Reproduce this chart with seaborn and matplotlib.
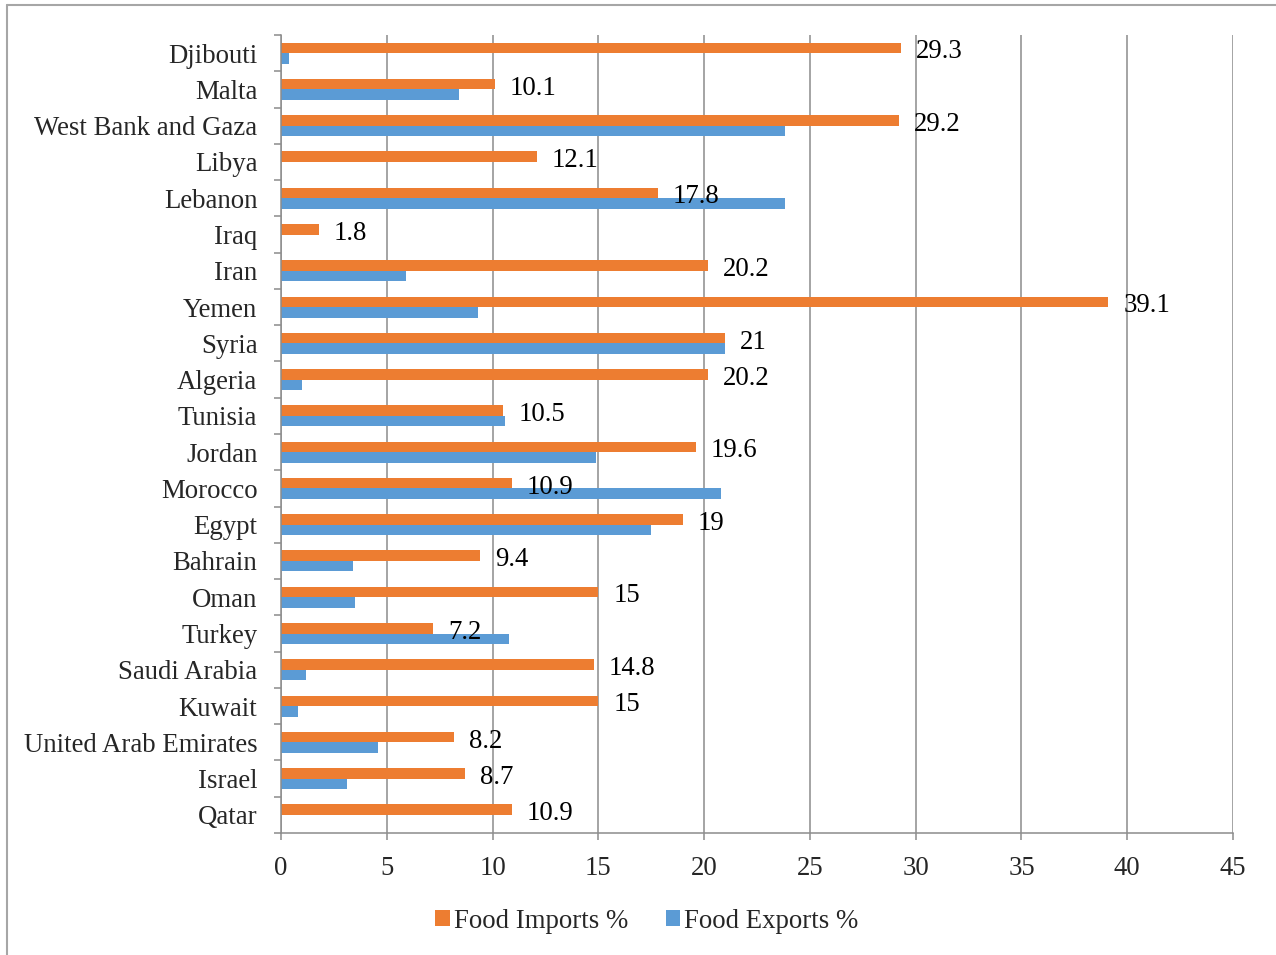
import matplotlib
matplotlib.use("Agg")
import matplotlib.pyplot as plt
from matplotlib.patches import Patch
from matplotlib.lines import Line2D
import numpy as np
import pandas as pd
import seaborn as sns

countries = ["Djibouti", "Malta", "West Bank and Gaza", "Libya", "Lebanon", "Iraq",
             "Iran", "Yemen", "Syria", "Algeria", "Tunisia", "Jordan", "Morocco",
             "Egypt", "Bahrain", "Oman", "Turkey", "Saudi Arabia", "Kuwait",
             "United Arab Emirates", "Israel", "Qatar"]
food_imports = [29.3, 10.1, 29.2, 12.1, 17.8, 1.8, 20.2, 39.1, 21, 20.2, 10.5, 19.6,
                10.9, 19, 9.4, 15, 7.2, 14.8, 15, 8.2, 8.7, 10.9]
food_exports = [0.4, 8.4, 23.8, 0.0, 23.8, 0.0, 5.9, 9.3, 21.0, 1.0, 10.6, 14.9,
                20.8, 17.5, 3.4, 3.5, 10.8, 1.2, 0.8, 4.6, 3.1, 0.0]
series_names = ["Food Imports %", "Food Exports %"]
x_ticks = [0, 5, 10, 15, 20, 25, 30, 35, 40, 45]

orange = "#ED7D31"
blue = "#5B9BD5"
grid_gray = "#8C8C8C"
axis_gray = "#8C8C8C"

df = pd.DataFrame({
    "country": countries * 2,
    "value": food_imports + food_exports,
    "series": [series_names[0]] * len(countries) + [series_names[1]] * len(countries),
})

sns.set_style("white")
plt.rcParams["font.family"] = ["Liberation Serif", "DejaVu Serif"]

fig = plt.figure(figsize=(12.76, 9.55), dpi=100)
ax = fig.add_axes([281 / 1276, 1 - 833 / 955, (1233 - 281) / 1276, (833 - 35) / 955])

sns.barplot(data=df, y="country", x="value", hue="series", order=countries,
            hue_order=series_names, palette=[orange, blue], orient="h",
            width=0.58, linewidth=0, saturation=1, errorbar=None, ax=ax, legend=False)

ax.set_xlim(0, 45)
ax.set_ylim(len(countries) - 0.5, -0.5)
ax.set_xlabel("")
ax.set_ylabel("")

# vertical gridlines
ax.set_xticks(x_ticks)
ax.set_xticklabels([str(t) for t in x_ticks], fontsize=19.3)
ax.xaxis.grid(True, color=grid_gray, linewidth=1.1)
ax.yaxis.grid(False)
ax.set_axisbelow(True)

# category labels at centres, tick marks at boundaries
ax.set_yticks(np.arange(len(countries)))
ax.set_yticklabels(countries, fontsize=19.3)
ax.set_yticks(np.arange(len(countries) + 1) - 0.5, minor=True)
ax.tick_params(axis="y", which="major", length=0, pad=17)
ax.tick_params(axis="y", which="minor", length=5, width=1.1, color=axis_gray, left=True)
ax.tick_params(axis="x", which="major", length=5, width=1.1, color=axis_gray,
               bottom=True, pad=11.5)

for side in ["top", "right"]:
    ax.spines[side].set_visible(False)
for side in ["left", "bottom"]:
    ax.spines[side].set_color(axis_gray)
    ax.spines[side].set_linewidth(1.1)

# value labels for imports
for i, v in enumerate(food_imports):
    ax.annotate(f"{v:g}", xy=(v, i - 0.145), xytext=(15, -4),
                textcoords="offset pixels", ha="left", va="center",
                fontsize=19.3, color="black")

handles = [Patch(facecolor=orange, edgecolor="none"), Patch(facecolor=blue, edgecolor="none")]
fig.legend(handles, series_names, loc="center", bbox_to_anchor=(0.507, 1 - 921 / 955),
           ncol=2, frameon=False, fontsize=19.3, handlelength=0.55, handleheight=0.55,
           handletextpad=0.15, columnspacing=1.4)

# outer chart frame
fig.add_artist(Line2D([7 / 1276, 7 / 1276], [0, 1 - 5 / 955], transform=fig.transFigure,
                      color="#A6A6A6", linewidth=1.5))
fig.add_artist(Line2D([7 / 1276, 1], [1 - 5 / 955, 1 - 5 / 955], transform=fig.transFigure,
                      color="#A6A6A6", linewidth=1.5))

fig.savefig("out.png", dpi=100)
